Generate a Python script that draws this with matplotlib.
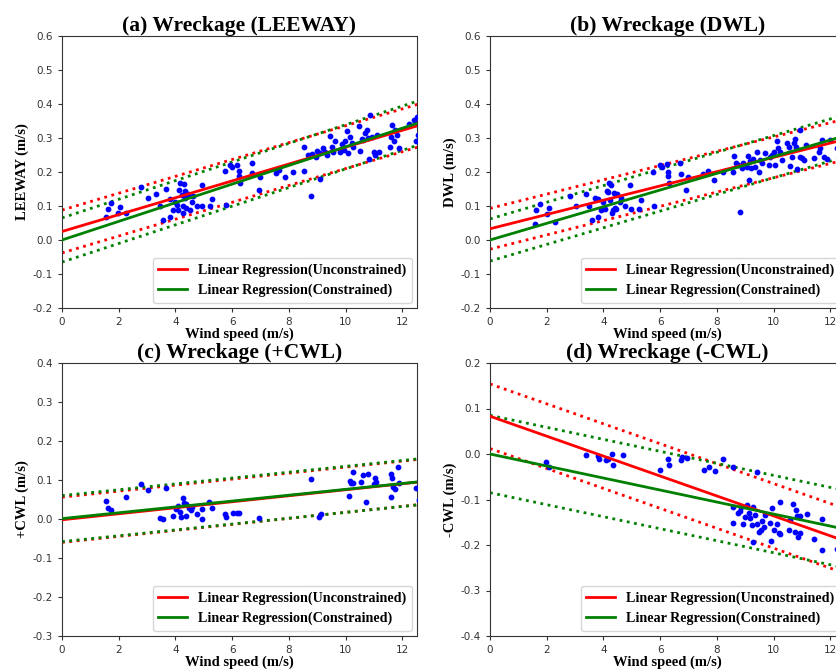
import numpy as np
import matplotlib
matplotlib.use("Agg")
import matplotlib.pyplot as plt

plt.rcParams['axes.unicode_minus'] = False

# ---- scatter data ----
# (a) LEEWAY
lee_ws = [1.54, 1.63, 1.74, 1.96, 2.04, 2.25, 2.78, 3.04, 3.33, 3.45, 3.57, 3.66, 3.80, 3.80,
          3.93, 3.98, 4.04, 4.08, 4.14, 4.16, 4.22, 4.25, 4.28, 4.31, 4.33, 4.33, 4.39, 4.45,
          4.51, 4.57, 4.63, 4.75, 4.92, 4.92, 5.22, 5.29, 5.76, 5.80, 5.92, 6.01, 6.18, 6.25,
          6.25, 6.28, 6.69, 6.69, 6.95, 6.98, 7.53, 7.67, 7.87, 8.16, 8.55, 8.55, 8.69, 8.78,
          8.81, 8.96, 9.01, 9.10, 9.10, 9.20, 9.28, 9.36, 9.46, 9.52, 9.57, 9.63, 9.81, 9.87,
          9.93, 9.99, 10.05, 10.10, 10.15, 10.22, 10.28, 10.46, 10.51, 10.57, 10.63, 10.69,
          10.75, 10.79, 10.81, 10.87, 10.93, 10.99, 11.05, 11.11, 11.17, 11.58, 11.60, 11.64,
          11.70, 11.76, 11.82, 11.88, 12.23, 12.41, 12.52, 12.50, 12.55]
lee_val = [0.067, 0.091, 0.109, 0.079, 0.096, 0.079, 0.156, 0.125, 0.136, 0.101, 0.059, 0.150,
           0.069, 0.120, 0.089, 0.113, 0.103, 0.089, 0.147, 0.167, 0.132, 0.099, 0.079, 0.166,
           0.123, 0.143, 0.094, 0.135, 0.089, 0.113, 0.128, 0.099, 0.161, 0.099, 0.100, 0.121,
           0.203, 0.102, 0.222, 0.216, 0.222, 0.204, 0.187, 0.169, 0.226, 0.197, 0.148, 0.184,
           0.198, 0.206, 0.184, 0.200, 0.204, 0.275, 0.250, 0.130, 0.253, 0.245, 0.263, 0.180,
           0.255, 0.270, 0.260, 0.250, 0.306, 0.275, 0.260, 0.290, 0.260, 0.283, 0.265, 0.290,
           0.322, 0.255, 0.302, 0.285, 0.275, 0.334, 0.262, 0.296, 0.294, 0.314, 0.324, 0.301,
           0.238, 0.368, 0.304, 0.260, 0.250, 0.309, 0.260, 0.275, 0.302, 0.339, 0.290, 0.325,
           0.309, 0.272, 0.341, 0.353, 0.361, 0.290, 0.309]

# (b) DWL
dwl_ws = [1.57, 1.63, 1.78, 2.00, 2.07, 2.28, 2.83, 3.04, 3.37, 3.49, 3.61, 3.69, 3.81, 3.81,
          3.92, 4.00, 4.07, 4.13, 4.16, 4.20, 4.22, 4.28, 4.32, 4.34, 4.36, 4.40, 4.46, 4.49,
          4.58, 4.63, 4.75, 4.93, 4.96, 5.24, 5.34, 5.75, 5.78, 5.99, 6.07, 6.23, 6.29, 6.29,
          6.32, 6.70, 6.73, 6.93, 6.99, 7.52, 7.70, 7.90, 8.21, 8.56, 8.61, 8.68, 8.76, 8.80,
          8.88, 8.94, 9.06, 9.09, 9.14, 9.17, 9.21, 9.27, 9.35, 9.41, 9.47, 9.53, 9.59, 9.71,
          9.83, 9.88, 9.94, 10.00, 10.06, 10.12, 10.17, 10.24, 10.30, 10.47, 10.53, 10.59,
          10.64, 10.71, 10.76, 10.80, 10.82, 10.92, 10.94, 11.00, 11.06, 11.16, 11.42, 11.59,
          11.65, 11.71, 11.77, 11.89, 12.00, 12.24]
dwl_val = [0.047, 0.087, 0.105, 0.077, 0.093, 0.054, 0.129, 0.100, 0.136, 0.099, 0.059, 0.125,
           0.069, 0.121, 0.089, 0.113, 0.091, 0.145, 0.140, 0.167, 0.118, 0.162, 0.079, 0.087,
           0.138, 0.094, 0.092, 0.135, 0.113, 0.123, 0.100, 0.162, 0.092, 0.092, 0.118, 0.201,
           0.101, 0.221, 0.214, 0.223, 0.201, 0.187, 0.167, 0.226, 0.194, 0.148, 0.184, 0.195,
           0.204, 0.177, 0.201, 0.201, 0.247, 0.226, 0.221, 0.082, 0.211, 0.226, 0.216, 0.247,
           0.177, 0.231, 0.211, 0.238, 0.216, 0.259, 0.201, 0.235, 0.226, 0.257, 0.221, 0.245,
           0.250, 0.260, 0.221, 0.290, 0.270, 0.260, 0.235, 0.285, 0.275, 0.219, 0.245, 0.285,
           0.296, 0.275, 0.208, 0.324, 0.245, 0.240, 0.235, 0.280, 0.240, 0.260, 0.270, 0.294,
           0.245, 0.238, 0.294, 0.270]

# (c) +CWL
pcwl_ws = [1.54, 1.63, 1.74, 2.25, 2.78, 3.04, 3.45, 3.57, 3.66, 3.92, 4.02, 4.10, 4.16, 4.18,
           4.28, 4.31, 4.36, 4.39, 4.49, 4.54, 4.57, 4.75, 4.92, 4.92, 5.19, 5.29, 5.76, 5.80,
           6.04, 6.18, 6.25, 6.96, 8.79, 9.08, 9.13, 10.11, 10.14, 10.19, 10.25, 10.28, 10.55,
           10.61, 10.73, 10.79, 11.01, 11.05, 11.08, 11.60, 11.60, 11.64, 11.67, 11.73, 11.85,
           11.87, 12.50, 12.58]
pcwl_val = [0.046, 0.027, 0.023, 0.056, 0.090, 0.074, 0.002, 0.000, 0.080, 0.008, 0.025, 0.033,
            0.019, 0.004, 0.053, 0.042, 0.038, 0.008, 0.027, 0.023, 0.032, 0.013, 0.025, -0.001,
            0.043, 0.027, 0.014, 0.006, 0.016, 0.016, 0.016, 0.002, 0.102, 0.006, 0.014, 0.060,
            0.098, 0.092, 0.120, 0.093, 0.096, 0.113, 0.044, 0.116, 0.089, 0.106, 0.094, 0.057,
            0.116, 0.104, 0.083, 0.076, 0.133, 0.092, 0.079, 0.049]

# (d) -CWL
ncwl_ws = [1.98, 2.08, 3.37, 3.81, 3.84, 4.10, 4.16, 4.30, 4.34, 4.69, 5.99, 6.29, 6.32, 6.72,
           6.76, 6.96, 7.55, 7.72, 7.94, 8.21, 8.58, 8.58, 8.58, 8.76, 8.82, 8.84, 8.94, 9.00,
           9.06, 9.12, 9.17, 9.23, 9.27, 9.29, 9.35, 9.41, 9.43, 9.50, 9.55, 9.59, 9.65, 9.71,
           9.86, 9.91, 9.94, 10.00, 10.12, 10.18, 10.21, 10.24, 10.53, 10.59, 10.68, 10.77,
           10.80, 10.83, 10.86, 10.92, 10.94, 11.18, 11.44, 11.71, 11.71, 12.24]
ncwl_val = [-0.018, -0.028, -0.002, -0.004, -0.011, -0.014, -0.012, 0.000, -0.025, -0.003,
            -0.036, -0.012, -0.024, -0.014, -0.007, -0.009, -0.035, -0.028, -0.037, -0.012,
            -0.029, -0.116, -0.151, -0.130, -0.125, -0.116, -0.154, -0.139, -0.112, -0.129,
            -0.141, -0.156, -0.193, -0.117, -0.134, -0.039, -0.153, -0.171, -0.166, -0.147,
            -0.160, -0.134, -0.151, -0.191, -0.119, -0.166, -0.153, -0.173, -0.105, -0.176,
            -0.167, -0.145, -0.110, -0.171, -0.123, -0.136, -0.183, -0.136, -0.173, -0.132,
            -0.186, -0.143, -0.211, -0.208]

# ---- regression lines: (intercept, slope, half width of band) ----
lee_unc = (0.025, 0.0248, 0.063)
lee_con = (0.000, 0.0274, 0.065)
dwl_unc = (0.033, 0.0210, 0.060)
dwl_con = (0.000, 0.0245, 0.062)
pcwl_unc = (-0.002, 0.0077, 0.058)
pcwl_con = (0.001, 0.0075, 0.059)
ncwl_unc = (0.083, -0.0219, 0.071)
ncwl_con = (0.000, -0.0132, 0.085)

titles = ['(a) Wreckage (LEEWAY)', '(b) Wreckage (DWL)',
          '(c) Wreckage (+CWL)', '(d) Wreckage (-CWL)']
ylabels = ['LEEWAY (m/s)', 'DWL (m/s)', '+CWL (m/s)', '-CWL (m/s)']
ylims = [(-0.2, 0.6), (-0.2, 0.6), (-0.3, 0.4), (-0.4, 0.2)]

SERIF = 'Liberation Serif'
X_MAX = 12.52


def draw_panel(ax, ws, val, unc, con, title, ylabel, ylim):
    xs = np.array([0, 14])
    # dotted bands first, then data and the fitted lines on top
    for (a, b, h), col in [(unc, 'red'), (con, 'green')]:
        ax.plot(xs, a + b * xs + h, ':', color=col, lw=2)
        ax.plot(xs, a + b * xs - h, ':', color=col, lw=2)
    ax.scatter(ws, val, s=10, color='blue', zorder=3)
    ax.plot(xs, unc[0] + unc[1] * xs, color='red', lw=2,
            label='Linear Regression(Unconstrained)', zorder=4)
    ax.plot(xs, con[0] + con[1] * xs, color='green', lw=2,
            label='Linear Regression(Constrained)', zorder=4)

    ax.set_xlim(0, X_MAX)
    ax.set_ylim(*ylim)
    ax.set_xticks(range(0, 13, 2))
    ax.set_yticks(np.round(np.arange(ylim[0], ylim[1] + 0.01, 0.1), 1))
    ax.tick_params(labelsize=7.5, colors='#333333', length=3)
    for sp in ax.spines.values():
        sp.set_color('#333333')

    ax.set_title(title, fontsize=15.5, fontweight='bold', family=SERIF, pad=3)
    ax.set_ylabel(ylabel, fontsize=10.5, fontweight='bold', family=SERIF, labelpad=3)
    ax.set_xlabel('Wind speed (m/s)', fontsize=10.5, fontweight='bold', family=SERIF, labelpad=0)
    ax.legend(loc='lower right', prop={'family': SERIF, 'weight': 'bold', 'size': 10.2},
              borderaxespad=0.35)


fig = plt.figure(figsize=(8.36, 6.71), dpi=100)
W, H = 836, 671
# axes boxes in pixels: left, top, width, height (right column runs past the edge)
boxes = [(62, 36, 355, 272), (490, 36, 355, 272),
         (62, 363, 355, 273), (490, 363, 355, 273)]
datasets = [(lee_ws, lee_val, lee_unc, lee_con),
            (dwl_ws, dwl_val, dwl_unc, dwl_con),
            (pcwl_ws, pcwl_val, pcwl_unc, pcwl_con),
            (ncwl_ws, ncwl_val, ncwl_unc, ncwl_con)]

for i, (left, top, w, h) in enumerate(boxes):
    ax = fig.add_axes([left / W, 1 - (top + h) / H, w / W, h / H])
    ws, val, unc, con = datasets[i]
    draw_panel(ax, ws, val, unc, con, titles[i], ylabels[i], ylims[i])

fig.savefig('out.png', dpi=100)
